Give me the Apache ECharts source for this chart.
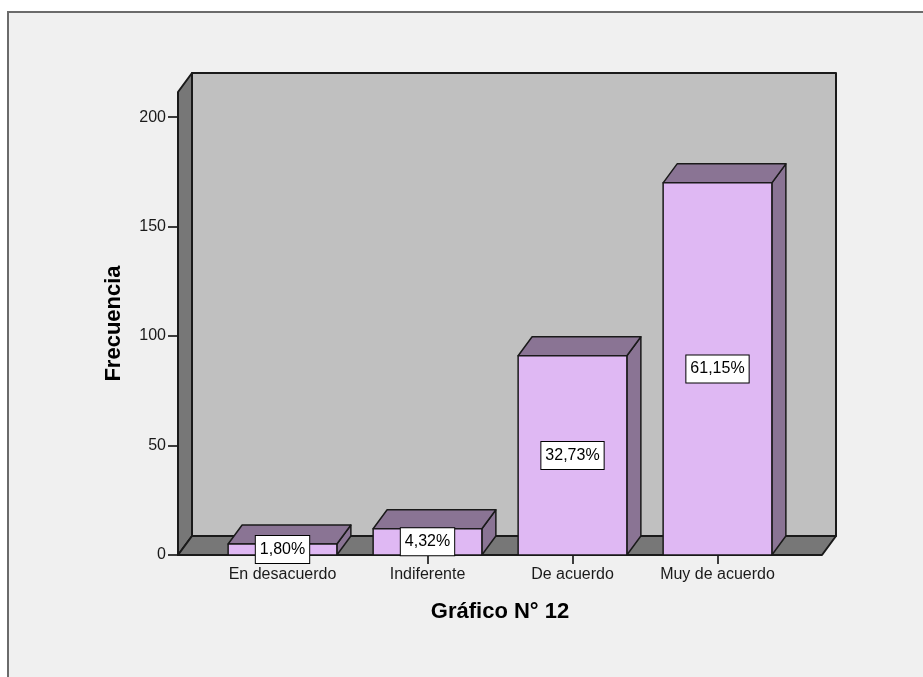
<!DOCTYPE html>
<html>
<head>
<meta charset="utf-8">
<script src="https://cdn.jsdelivr.net/npm/echarts@6/dist/echarts.min.js"></script>
<style>
  html, body { margin: 0; padding: 0; background: #fff; }
  #chart { width: 923px; height: 677px; }
</style>
</head>
<body>
<div id="chart"></div>
<script>
// datos
const categories = ['En desacuerdo', 'Indiferente', 'De acuerdo', 'Muy de acuerdo']
const frequencies = [5, 12, 91, 170]
const percentLabels = ['1,80%', '4,32%', '32,73%', '61,15%']
const yTicks = [0, 50, 100, 150, 200]
const yMax = 211.5

const FONT = '"Liberation Sans", Arial, sans-serif'
const DX = 14      // profundidad 3D
const DY = -19
const SIDE = 32    // margen del suelo fuera de las categorías
const EDGE = '#1a1a1a'

const chart = echarts.init(document.getElementById('chart'))

function wallsItem (params, api) {
  const cs = params.coordSys
  const xL = cs.x - SIDE
  const xR = cs.x + cs.width + SIDE
  const yT = cs.y
  const yB = cs.y + cs.height
  const line = { stroke: EDGE, lineWidth: 2, lineJoin: 'round' }
  return {
    type: 'group',
    children: [
      { type: 'polygon', shape: { points: [[xL + DX, yT + DY], [xR + DX, yT + DY], [xR + DX, yB + DY], [xL + DX, yB + DY]] },
        style: Object.assign({ fill: '#c0c0c0' }, line) },
      { type: 'polygon', shape: { points: [[xL, yT], [xL + DX, yT + DY], [xL + DX, yB + DY], [xL, yB]] },
        style: Object.assign({ fill: '#777777' }, line) },
      { type: 'polygon', shape: { points: [[xL, yB], [xL + DX, yB + DY], [xR + DX, yB + DY], [xR, yB]] },
        style: Object.assign({ fill: '#777777' }, line) }
    ]
  }
}

function barItem (params, api) {
  const i = api.value(0)
  const top = api.coord([i, api.value(1)])
  const base = api.coord([i, 0])
  const bw = api.size([1, 0])[0] * 0.75
  const x0 = top[0] - bw / 2
  const x1 = top[0] + bw / 2
  const yv = top[1]
  const yb = base[1]
  const line = { stroke: EDGE, lineWidth: 1.5, lineJoin: 'round' }
  return {
    type: 'group',
    children: [
      { type: 'polygon', shape: { points: [[x1, yv], [x1 + DX, yv + DY], [x1 + DX, yb + DY], [x1, yb]] },
        style: Object.assign({ fill: '#8a7494' }, line) },
      { type: 'polygon', shape: { points: [[x0, yv], [x0 + DX, yv + DY], [x1 + DX, yv + DY], [x1, yv]] },
        style: Object.assign({ fill: '#8a7494' }, line) },
      { type: 'rect', shape: { x: x0, y: yv, width: bw, height: yb - yv },
        style: Object.assign({ fill: '#dfb8f3' }, line) },
      { type: 'text', x: top[0], y: (yv + yb) / 2,
        style: {
          text: percentLabels[params.dataIndex], fill: '#000', font: '16px ' + FONT,
          align: 'center', verticalAlign: 'middle',
          backgroundColor: '#fff', borderColor: '#000', borderWidth: 1, padding: [6, 4, 5, 4]
        } }
    ]
  }
}

chart.setOption({
  animation: false,
  backgroundColor: '#fff',
  graphic: [
    { type: 'rect', z: -10, shape: { x: 8, y: 12, width: 940, height: 700 },
      style: { fill: '#f0f0f0', stroke: '#6b6b6b', lineWidth: 2 } },
    { type: 'text', z: -5, x: 269, y: 4,
      style: { text: 'acuerdo.', font: 'bold 16px ' + FONT, fill: '#000', align: 'center', verticalAlign: 'bottom' } }
  ],
  grid: { left: 210, width: 580, top: 92, bottom: 122 },
  xAxis: {
    type: 'category',
    data: categories,
    name: 'Gráfico N° 12',
    nameLocation: 'middle',
    nameGap: 46,
    nameTextStyle: { fontFamily: FONT, fontSize: 22, fontWeight: 'bold', color: '#000' },
    axisLine: { show: false },
    axisTick: { show: true, alignWithLabel: true, length: 9, lineStyle: { color: '#000', width: 1.5 } },
    axisLabel: { interval: 0, fontFamily: FONT, fontSize: 16, color: '#1a1a1a', margin: 12 }
  },
  yAxis: {
    type: 'value',
    min: 0,
    max: yMax,
    offset: SIDE,
    name: 'Frecuencia',
    nameLocation: 'middle',
    nameGap: 53,
    nameTextStyle: { fontFamily: FONT, fontSize: 22, fontWeight: 'bold', color: '#000' },
    axisLine: { show: false },
    splitLine: { show: false },
    axisTick: { show: true, length: 10, customValues: yTicks, lineStyle: { color: '#000', width: 1.5 } },
    axisLabel: { fontFamily: FONT, fontSize: 16, color: '#1a1a1a', margin: 12, customValues: yTicks }
  },
  series: [
    {
      type: 'custom',
      renderItem: wallsItem,
      clip: false,
      silent: true,
      z: 1,
      data: [[0, 0]]
    },
    {
      type: 'custom',
      renderItem: barItem,
      clip: false,
      z: 3,
      encode: { x: 0, y: 1 },
      data: frequencies.map((v, i) => [i, v])
    }
  ]
})
</script>
</body>
</html>
